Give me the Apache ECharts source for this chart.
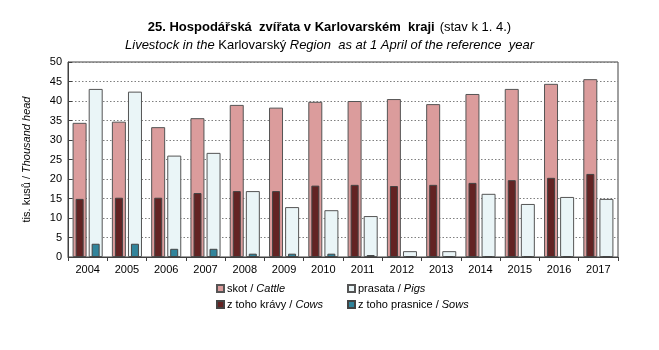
<!DOCTYPE html>
<html><head><meta charset="utf-8">
<script src="https://cdn.jsdelivr.net/npm/echarts@6/dist/echarts.min.js"></script>
<style>html,body{margin:0;padding:0;background:#fff}#c{width:659px;height:350px}</style>
</head><body><div id="c"></div>
<script>
const years = ['2004','2005','2006','2007','2008','2009','2010','2011','2012','2013','2014','2015','2016','2017'];
const cattle = [34.4,34.7,33.3,35.6,39.0,38.3,39.8,40.0,40.5,39.2,41.8,43.1,44.4,45.6];
const pigs = [43.1,42.4,26.0,26.7,16.9,12.8,12.0,10.5,1.5,1.5,16.2,13.6,15.4,14.9];
const cows = [14.9,15.2,15.2,16.4,16.9,16.9,18.3,18.5,18.2,18.5,19.0,19.7,20.3,21.3];
const sows = [3.4,3.4,2.1,2.1,0.85,0.85,0.85,0.5,0.2,0.2,0.2,0.2,0.2,0.2];
const yTicks = [0,5,10,15,20,25,30,35,40,45,50];

const F = 'Liberation Sans, Arial, sans-serif';
const names = {
  cattle: '{n|skot / }{i|Cattle}',
  pigs: '{n|prasata / }{i|Pigs}',
  cows: '{n|z toho krávy / }{i|Cows}',
  sows: '{n|z toho prasnice / }{i|Sows}'
};
const rich = {n:{fontFamily:F,fontSize:11,color:'#000'}, i:{fontFamily:F,fontSize:11,fontStyle:'italic',color:'#000'}};
const chart = echarts.init(document.getElementById('c'), null, {renderer:'canvas'});
const xa = (show) => ({
  type:'category', data:years, gridIndex:0, show:show,
  axisLine:{show:true, lineStyle:{color:'#404040'}},
  axisTick:{show:true, alignWithLabel:false, length:4, lineStyle:{color:'#404040'}},
  axisLabel:{fontFamily:F, fontSize:11, color:'#000', margin:7}
});
chart.setOption({
  animation:false,
  title:{
    left:'center', top:13, itemGap:3,
    text:'{b|25. Hospodářská  zvířata v Karlovarském  kraji} {r|(stav k 1. 4.)}',
    textStyle:{fontWeight:'normal', rich:{b:{fontFamily:F,fontSize:13,fontWeight:'bold',color:'#000'},r:{fontFamily:F,fontSize:13,fontWeight:'normal',color:'#000'}}},
    subtext:'{i|Livestock in the }{r|Karlovarský }{i|Region  as at 1 April of the reference  year}',
    subtextStyle:{rich:{i:{fontFamily:F,fontSize:13,fontStyle:'italic',color:'#000'},r:{fontFamily:F,fontSize:13,color:'#000'}}}
  },
  grid:{left:68, right:41, top:62, bottom:93, show:true, borderColor:'#404040', borderWidth:1},
  legend:[
    {data:['cattle','cows'], orient:'vertical', left:211, top:278, itemWidth:7, itemHeight:7, itemGap:5, icon:'rect',
     formatter:n=>names[n], textStyle:{rich:rich, padding:[0,0,0,-2]}},
    {data:['pigs','sows'], orient:'vertical', left:342, top:278, itemWidth:7, itemHeight:7, itemGap:5, icon:'rect',
     formatter:n=>names[n], textStyle:{rich:rich, padding:[0,0,0,-2]}}
  ],
  xAxis:[xa(true), Object.assign(xa(false),{show:false})],
  yAxis:{
    type:'value', min:0, max:50, interval:5,
    name:'{n|tis. kusů / }{i|Thousand head}', nameLocation:'middle', nameGap:36, nameRotate:90,
    nameTextStyle:{rich:rich},
    axisLine:{show:true, lineStyle:{color:'#404040'}},
    axisTick:{show:true, inside:true, length:4, lineStyle:{color:'#404040'}},
    axisLabel:{fontFamily:F, fontSize:11, color:'#000', margin:6, formatter:v=>yTicks.includes(v)?String(v):''},
    splitLine:{show:true, lineStyle:{color:'#7f7f7f', type:[1.5,2], width:1}}
  },
  series:[
    {name:'cattle', type:'bar', xAxisIndex:0, data:cattle, barWidth:14, barGap:'15%',
     itemStyle:{color:'#db9c9c', borderColor:'#555', borderWidth:1}},
    {name:'pigs', type:'bar', xAxisIndex:0, data:pigs, barWidth:14, barGap:'15%',
     itemStyle:{color:'#eaf5f7', borderColor:'#555', borderWidth:1}},
    {name:'cows', type:'bar', xAxisIndex:1, data:cows, barWidth:8, barGap:'100%', z:3,
     itemStyle:{color:'#632323', borderColor:'#444', borderWidth:1}},
    {name:'sows', type:'bar', xAxisIndex:1, data:sows, barWidth:8, barGap:'100%', z:3,
     itemStyle:{color:'#31849b', borderColor:'#444', borderWidth:1}}
  ]
});
</script></body></html>
